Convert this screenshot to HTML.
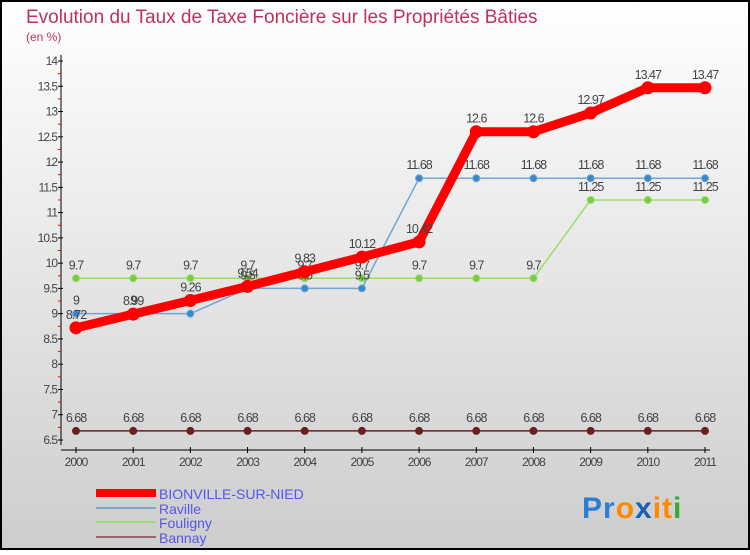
<!DOCTYPE html>
<html><head><meta charset="utf-8"><style>
body{margin:0;}
#c{width:750px;height:550px;position:relative;font-family:"Liberation Sans",sans-serif;}
svg text{font-family:"Liberation Sans",sans-serif;}
</style></head><body>
<div id="c">
<svg id="s" width="750" height="550" xmlns="http://www.w3.org/2000/svg">
<defs><linearGradient id="bg" x1="0" y1="0" x2="0" y2="1"><stop offset="0" stop-color="#ffffff"/><stop offset="1" stop-color="#cdcdcd"/></linearGradient></defs>
<rect x="1" y="1" width="748" height="548" fill="url(#bg)" stroke="#000" stroke-width="2"/>
<text x="26" y="23" font-size="19" fill="#c0305a">Evolution du Taux de Taxe Foncière sur les Propriétés Bâties</text>
<text x="26" y="41" font-size="12" fill="#c0305a">(en %)</text>
<g id="axes"></g><g id="series"></g>
<g>
<rect x="96" y="489" width="60" height="8" fill="#ff0000"/>
<text x="159" y="499" font-size="14" fill="#5555ee">BIONVILLE-SUR-NIED</text>
<line x1="96" y1="508" x2="156" y2="508" stroke="#7aa8cc" stroke-width="2"/>
<text x="159" y="514" font-size="14" fill="#5555ee">Raville</text>
<line x1="96" y1="522" x2="156" y2="522" stroke="#99dd77" stroke-width="2"/>
<text x="159" y="528" font-size="14" fill="#5555ee">Fouligny</text>
<line x1="96" y1="537" x2="156" y2="537" stroke="#996666" stroke-width="2"/>
<text x="159" y="543" font-size="14" fill="#5555ee">Bannay</text>
</g>
<text x="582" y="518" font-size="30" font-weight="bold" letter-spacing="1"><tspan fill="#2a7fd0">Pr</tspan><tspan fill="#ff8800">o</tspan><tspan fill="#1a5fb0">x</tspan><tspan fill="#ff8800">i</tspan><tspan fill="#ff8800">t</tspan><tspan fill="#33aa33">i</tspan></text>
</svg></div>
<script>
const years=["2000","2001","2002","2003","2004","2005","2006","2007","2008","2009","2010","2011"];
const bionville=[8.72,8.99,9.26,9.54,9.83,10.12,10.42,12.6,12.6,12.97,13.47,13.47];
const raville=[9,9,9,9.5,9.5,9.5,11.68,11.68,11.68,11.68,11.68,11.68];
const fouligny=[9.7,9.7,9.7,9.7,9.7,9.7,9.7,9.7,9.7,11.25,11.25,11.25];
const bannay=[6.68,6.68,6.68,6.68,6.68,6.68,6.68,6.68,6.68,6.68,6.68,6.68];
const yTicks=[6.5,7,7.5,8,8.5,9,9.5,10,10.5,11,11.5,12,12.5,13,13.5,14];
const NS="http://www.w3.org/2000/svg";
function X(i){return 76+i*(705-76)/(years.length-1);}
function Y(v){return 440-(v-6.5)*(440-61)/7.5;}
function mk(tag,at,parent){const e=document.createElementNS(NS,tag);for(const k in at)e.setAttribute(k,at[k]);parent.appendChild(e);return e;}
const ax=document.getElementById('axes');
let a=mk('line',{x1:61,y1:55,x2:61,y2:445,stroke:'#000'},ax);


a=mk('line',{x1:61,y1:450,x2:710,y2:450,stroke:'#000'},ax);


yTicks.forEach((v,i)=>{
 const t=mk('line',{x1:58,y1:Y(v),x2:63,y2:Y(v),stroke:'#000'},ax);
 
 
 if(i<yTicks.length-1){const m=mk('line',{x1:58,y1:Y(v+0.25),x2:61,y2:Y(v+0.25),stroke:'#f00'},ax);
 
 }
 const l=mk('text',{x:57,y:Y(v)+4,'font-size':12,fill:'#444','text-anchor':'end','letter-spacing':'-1'},ax);l.textContent=String(v);
 
 
});
years.forEach((y,i)=>{
 const t=mk('line',{x1:X(i),y1:447,x2:X(i),y2:453,stroke:'#000'},ax);
 
 
 const l=mk('text',{x:X(i),y:466,'font-size':12,fill:'#444','text-anchor':'middle','letter-spacing':'-1'},ax);l.textContent=y;
 
 
});
const sg=document.getElementById('series');
function series(name,vals,color,dot,w,r){
 const g=mk('g',{},sg);
 
 
 const p=mk('polyline',{points:vals.map((v,i)=>X(i)+','+Y(v)).join(' '),fill:'none',stroke:color,'stroke-width':w,'stroke-linejoin':'round'},g);
 
 
 vals.forEach((v,i)=>{
  const c=mk('circle',{cx:X(i),cy:Y(v),r:r,fill:dot,stroke:color,'stroke-width':1},g);
  
  
  const l=mk('text',{x:X(i),y:Y(v)-9,'font-size':12.5,fill:'#444','text-anchor':'middle','letter-spacing':'-1'},g);
  l.textContent=String(v);
  
  
 });
}
series('bannay',bannay,'#6b2020','#6b2020',1.5,3.5);
series('fouligny',fouligny,'#99dd66','#77cc44',1.5,3.5);
series('raville',raville,'#6fa6d6','#3a88cc',1.5,3.5);
series('bionville',bionville,'#ff0000','#ff0000',9,6);
</script>
</body></html>
